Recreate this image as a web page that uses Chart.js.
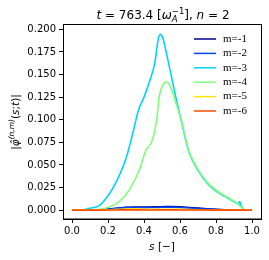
<!DOCTYPE html>
<html>
<head>
<meta charset="utf-8">
<script src="https://cdn.jsdelivr.net/npm/chart.js@4/dist/chart.umd.min.js"></script>
<style>
  body { margin: 0; background: #fff; }
  canvas { display: block; }
</style>
</head>
<body>
<canvas id="mode-chart" width="269" height="260"></canvas>
<script>
// series labels and colours (jet-like)
const modeLabels = ["m=-1", "m=-2", "m=-3", "m=-4", "m=-5", "m=-6"];
const modeColors = ["#00008f", "#0044ff", "#00d4ff", "#7dff7a", "#ffe600", "#ff4a00"];

// tick labels
const xTicks = [0.0, 0.2, 0.4, 0.6, 0.8, 1.0];
const yTicks = [0.000, 0.025, 0.050, 0.075, 0.100, 0.125, 0.150, 0.175, 0.200];

// m=-3 (big peak)
const s3 = [0, 0.05, 0.1, 0.15, 0.2, 0.25, 0.3, 0.34, 0.37, 0.4, 0.43, 0.46, 0.478, 0.49, 0.505,
  0.523, 0.55, 0.58, 0.61, 0.65, 0.7, 0.75, 0.8, 0.86, 0.91, 0.925, 0.932, 0.94, 0.96, 1.0];
const v3 = [0, 0, 0.002, 0.005, 0.016, 0.033, 0.057, 0.087, 0.111, 0.125, 0.142, 0.163, 0.188, 0.1944, 0.190,
  0.175, 0.150, 0.122, 0.096, 0.064, 0.044, 0.030, 0.021, 0.014, 0.0082, 0.0074, 0.0095, 0.005, 0, 0];

// m=-4 (second peak)
const s4 = [0, 0.1, 0.15, 0.2, 0.26, 0.32, 0.375, 0.41, 0.44, 0.458, 0.47, 0.486, 0.505, 0.527,
  0.55, 0.58, 0.61, 0.65, 0.7, 0.75, 0.8, 0.86, 0.91, 0.95, 0.965, 1.0];
const v4 = [0, 0, 0.0008, 0.003, 0.009, 0.023, 0.045, 0.066, 0.0745, 0.086, 0.1, 0.127, 0.1386, 0.142,
  0.135, 0.117, 0.097, 0.065, 0.045, 0.031, 0.022, 0.0145, 0.0085, 0.002, 0, 0];

// small modes share one grid
const sSmall = [0, 0.1, 0.15, 0.2, 0.25, 0.3, 0.35, 0.4, 0.45, 0.5, 0.55, 0.6, 0.65, 0.7, 0.75, 0.8, 0.85, 0.9, 1.0];
const v1 = [0, 0, 0.0003, 0.001, 0.002, 0.0032, 0.0035, 0.0033, 0.0036, 0.0038, 0.004, 0.0037, 0.003, 0.0022, 0.0015, 0.0009, 0.0004, 0.0001, 0];
const v2 = [0, 0, 0.0005, 0.0012, 0.002, 0.0028, 0.003, 0.0027, 0.0029, 0.0032, 0.0033, 0.003, 0.0024, 0.0017, 0.0011, 0.0006, 0.0003, 0.0001, 0];
const v5 = [0, 0, 0, 0.0003, 0.0008, 0.0013, 0.0015, 0.001, 0.0008, 0.0009, 0.001, 0.0008, 0.0006, 0.0004, 0.0002, 0.0001, 0, 0, 0];
const v6 = [0, 0, 0, 0.0001, 0.0002, 0.0003, 0.0003, 0.0002, 0.0002, 0.0003, 0.0003, 0.0002, 0.0002, 0.0001, 0.0001, 0, 0, 0, 0];

const seriesS = [sSmall, sSmall, s3, s4, sSmall, sSmall];
const seriesV = [v1, v2, v3, v4, v5, v6];

const SANS = "'DejaVu Sans', sans-serif";

// draw a list of text pieces: [text, italic, size, dy]
function drawRich(ctx, parts, x, y, align) {
  let w = 0;
  parts.forEach(p => {
    ctx.font = (p[1] ? "italic " : "") + p[2] + "px " + SANS;
    p.w = p[4] === "stack" ? 0 : ctx.measureText(p[0]).width;
    if (p[4] === "stack") p.w = 0;
    w += p.w;
  });
  let cx = align === "center" ? x - w / 2 : x;
  parts.forEach(p => {
    ctx.font = (p[1] ? "italic " : "") + p[2] + "px " + SANS;
    ctx.fillText(p[0], cx, y + p[3]);
    cx += p.w;
  });
}

const decorPlugin = {
  id: "decor",
  afterDraw(chart) {
    const ctx = chart.ctx;
    const a = chart.chartArea;
    ctx.save();
    // full frame
    ctx.strokeStyle = "#000";
    ctx.lineWidth = 1;
    ctx.strokeRect(Math.round(a.left) + 0.5, Math.round(a.top) - 0.5, Math.round(a.right - a.left), Math.round(a.bottom - a.top) + 0.5);

    // legend
    ctx.textBaseline = "middle";
    ctx.textAlign = "left";
    modeLabels.forEach((lab, i) => {
      const y = 39 + i * 14.4;
      ctx.strokeStyle = modeColors[i];
      ctx.lineWidth = 1.5;
      ctx.beginPath();
      ctx.moveTo(194, y);
      ctx.lineTo(216, y);
      ctx.stroke();
      ctx.fillStyle = "#000";
      ctx.font = "11px 'Liberation Serif', serif";
      ctx.fillText(lab, 223, y);
    });

    ctx.fillStyle = "#000";
    ctx.textBaseline = "alphabetic";
    const cx = (a.left + a.right) / 2;

    // title: t = 763.4 [ω_A^-1], n = 2
    ctx.font = "12px " + SANS;
    const title = [
      ["t", true, 12, 0], [" = 763.4 [", false, 12, 0], ["\u03c9", true, 12, 0],
      ["A", true, 8.5, 3, "stack"], ["\u22121", false, 8.5, -5], ["], ", false, 12, 0],
      ["n", true, 12, 0], [" = 2", false, 12, 0]
    ];
    drawRich(ctx, title, cx + 1, 19, "center");

    // x label
    drawRich(ctx, [["s", true, 10.5, 0], [" [\u2212]", false, 10.5, 0]], cx, 250, "center");

    // y label rotated
    ctx.save();
    ctx.translate(19, (a.top + a.bottom) / 2);
    ctx.rotate(-Math.PI / 2);
    drawRich(ctx, [
      ["|", false, 10.5, 0], ["\u03c6\u0302", true, 10.5, 0], ["(n,m)", true, 7.5, -5],
      ["(", false, 10.5, 0], ["s", true, 10.5, 0], [";", false, 10.5, 0], ["t", true, 10.5, 0], [")|", false, 10.5, 0]
    ], 0, 0, "center");
    ctx.restore();
    ctx.restore();
  }
};

const datasets = modeLabels.map((lab, i) => ({
  label: lab,
  data: seriesS[i].map((s, j) => ({ x: s, y: seriesV[i][j] })),
  borderColor: modeColors[i],
  borderWidth: 1.6,
  pointRadius: 0,
  cubicInterpolationMode: "monotone",
  order: modeLabels.length - i,
}));

const axisFont = { family: SANS, size: 10 };

new Chart(document.getElementById("mode-chart"), {
  type: "line",
  data: { datasets: datasets },
  options: {
    responsive: false,
    animation: false,
    layout: { padding: { top: 25, right: 8, left: 0, bottom: 0 } },
    plugins: { legend: { display: false }, tooltip: { enabled: false }, title: { display: false } },
    scales: {
      x: {
        type: "linear",
        min: -0.05,
        max: 1.05,
        afterFit: s => { s.height = 41; },
        afterBuildTicks: s => { s.ticks = xTicks.map(v => ({ value: v })); },
        ticks: { font: axisFont, color: "#000", padding: 2, maxRotation: 0, autoSkip: false,
          callback: v => v.toFixed(1) },
        grid: { drawOnChartArea: false, tickLength: 4, color: "#000" },
        border: { color: "#000" },
      },
      y: {
        type: "linear",
        min: -0.0098,
        max: 0.2048,
        afterFit: s => { s.width = 63; },
        afterBuildTicks: s => { s.ticks = yTicks.map(v => ({ value: v })); },
        ticks: { font: axisFont, color: "#000", padding: 3, autoSkip: false,
          callback: v => v.toFixed(3) },
        grid: { drawOnChartArea: false, tickLength: 4, color: "#000" },
        border: { color: "#000" },
      },
    },
  },
  plugins: [decorPlugin],
});
</script>
</body>
</html>
